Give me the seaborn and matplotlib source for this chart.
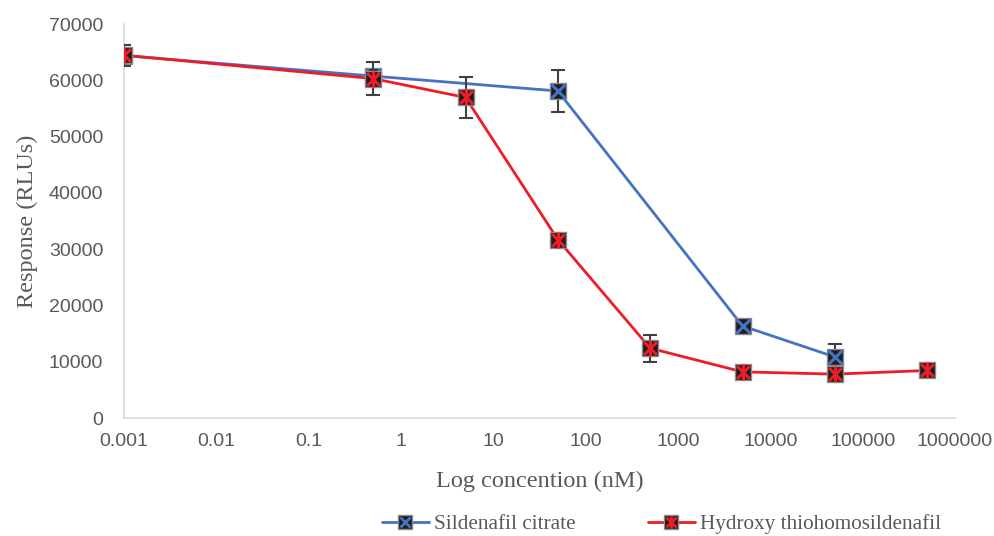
import numpy as np
import pandas as pd
import matplotlib
matplotlib.use('Agg')
import matplotlib.pyplot as plt
import seaborn as sns
from matplotlib.path import Path
from matplotlib.lines import Line2D
from matplotlib.legend_handler import HandlerTuple
from matplotlib.ticker import FixedLocator, LogLocator, NullFormatter

# data
sild_conc = [0.001, 0.5, 50, 5000, 50000]
sild_resp = [64400, 60750, 58100, 16350, 10850]
sild_err = [0, 0, 3800, 0, 2300]

hydro_conc = [0.001, 0.5, 5, 50, 500, 5000, 50000, 500000]
hydro_resp = [64450, 60300, 56950, 31700, 12400, 8200, 7800, 8450]
hydro_err = [1900, 3000, 3600, 0, 2400, 0, 900, 0]

x_ticks = [0.001, 0.01, 0.1, 1, 10, 100, 1000, 10000, 100000, 1000000]
x_tick_labels = ['0.001', '0.01', '0.1', '1', '10', '100', '1000', '10000', '100000', '1000000']
y_ticks = [0, 10000, 20000, 30000, 40000, 50000, 60000, 70000]

blue = '#4472C4'
red = '#EE1C25'
grey_txt = '#595959'

sns.set_style('white')
plt.rcParams['font.family'] = ['Liberation Sans', 'DejaVu Sans']

# X with a vertical stroke (excel "star" marker)
star = Path([(-1, -1), (1, 1), (-1, 1), (1, -1), (0, -1.25), (0, 1.25)],
            [Path.MOVETO, Path.LINETO, Path.MOVETO, Path.LINETO, Path.MOVETO, Path.LINETO])

fig = plt.figure(figsize=(9.95, 5.36), dpi=100)
ax = fig.add_axes([0.1246, 0.2201, 0.8352, 0.7351])

series = [
    ('Sildenafil citrate', sild_conc, sild_resp, sild_err, blue, 'x', 10, 3),
    ('Hydroxy thiohomosildenafil', hydro_conc, hydro_resp, hydro_err, red, star, 11.5, 5),
]

handles = []
for name, conc, resp, err, col, mk, ms, z in series:
    df = pd.DataFrame({'conc': conc, 'resp': resp, 'err': err})
    # error bars (only where visible in the source)
    e = df[df['err'] > 0]
    ax.errorbar(e['conc'], e['resp'], yerr=e['err'], fmt='none', ecolor='#404040',
                elinewidth=1.5, capsize=5, capthick=1.5, zorder=z)
    sns.lineplot(data=df, x='conc', y='resp', ax=ax, color=col, lw=2,
                 marker='s', markersize=12, markerfacecolor='#1e1e1e',
                 markeredgecolor='#8c8c8c', markeredgewidth=1, zorder=z + 0.5)
    ax.plot(df['conc'], df['resp'], ls='none', marker=mk, markersize=ms,
            markeredgecolor=col, markeredgewidth=2.2, zorder=z + 0.6)
    # legend swatch: smaller marker than on the plot
    h1 = Line2D([], [], color=col, lw=2, marker='s', markersize=9.5,
                markerfacecolor='#1e1e1e', markeredgecolor='#8c8c8c', markeredgewidth=1)
    h2 = Line2D([], [], ls='none', marker=mk, markersize=ms - 2.5,
                markeredgecolor=col, markeredgewidth=2)
    handles.append((h1, h2))

ax.set_xscale('log')
ax.set_xlim(0.001, 1000000)
ax.set_ylim(0, 70000)
ax.xaxis.set_major_locator(FixedLocator(x_ticks))
ax.set_xticklabels(x_tick_labels)
ax.xaxis.set_minor_locator(LogLocator(base=10, subs=np.arange(2, 10), numticks=20))
ax.xaxis.set_minor_formatter(NullFormatter())
ax.set_yticks(y_ticks)
ax.set_yticklabels([str(v) for v in y_ticks])

ax.tick_params(axis='x', which='both', direction='in', colors='#bfbfbf',
               labelcolor=grey_txt, labelsize=14, pad=11)
ax.tick_params(axis='x', which='major', length=5, width=1)
ax.tick_params(axis='x', which='minor', length=4, width=1)
ax.tick_params(axis='y', length=0, labelcolor=grey_txt, labelsize=14, pad=15)

for s in ['top', 'right']:
    ax.spines[s].set_visible(False)
for s in ['left', 'bottom']:
    ax.spines[s].set_color('#d9d9d9')
    ax.spines[s].set_linewidth(1.2)

ax.set_xlabel('Log concention (nM)', family='Liberation Serif', fontsize=17.5,
              color=grey_txt, labelpad=15)
ax.set_ylabel('Response (RLUs)', family='Liberation Serif', fontsize=17.5,
              color=grey_txt, labelpad=8)

fig.legend(handles, [s[0] for s in series], handler_map={tuple: HandlerTuple(ndivide=1)},
           loc='center', bbox_to_anchor=(0.665, 0.022), ncol=2, frameon=False,
           prop={'family': 'Liberation Serif', 'size': 15.3}, labelcolor=grey_txt,
           handlelength=2.2, columnspacing=3.4, handletextpad=0.25)

fig.savefig('out.png', dpi=100)
